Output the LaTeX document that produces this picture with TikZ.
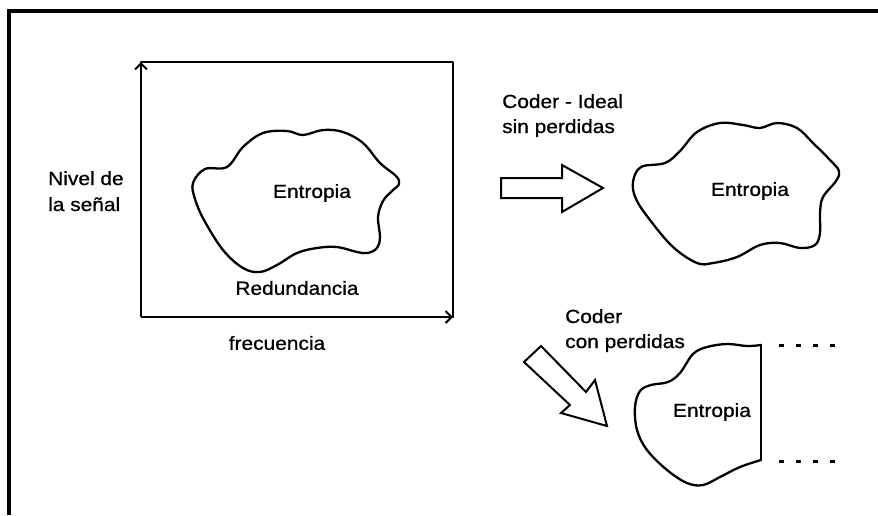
\documentclass[tikz,border=0pt]{standalone}
\usepackage{fontspec}
\setmainfont{Liberation Sans}[FakeStretch=1.1,FakeBold=0.8]
\usetikzlibrary{arrows.meta}
\begin{document}
\begin{tikzpicture}[x=1pt,y=-1pt,
  ink/.style={line width=2.4pt,line join=round,line cap=round},
  blob/.style={ink,line width=2.3pt},
  blockarrow/.style={line width=2pt,line join=miter,fill=white},
  lbl/.style={inner sep=0pt,font=\fontsize{19}{25}\selectfont},
  axisarrow/.style={line width=2.4pt,-{Straight Barb[length=6pt,width=12pt,line width=2pt]}}]
% canvas
\useasboundingbox (0,0) rectangle (878,515);
% page frame (top and left edges)
\draw[line width=3.2pt] (9,515) -- (9,11) -- (878,11);

% ---- signal space: level vs. frequency ----
\coordinate (origin) at (141,317);
\coordinate (ytop) at (141,62);
\coordinate (xend) at (453,317);
\coordinate (corner) at (453,62);
\draw[ink] (ytop) -- (corner) -- (xend);
\draw[axisarrow] (origin) -- (ytop);
\draw[axisarrow] (origin) -- (xend);

\draw[blob] plot[smooth cycle,tension=0.6] coordinates {
  (193,183) (205,169) (227,167) (243,147) (263,133) (287,131) (303,135)
  (323,130) (343,132) (363,143) (380,163) (396,176) (399,184) (392,191)
  (383,201) (378,217) (380,237) (377,248) (368,253) (357,252) (337,247)
  (317,248) (297,253) (277,265) (260,272) (243,268) (223,250) (204,220)
  (195,199)};

\node[lbl] (ent1) at (312,193) {Entropia};
\node[lbl] (red) at (297,288) {Redundancia};
\node[lbl] (freq) at (277,343) {frecuencia};
\node[lbl,anchor=base west] (niv1) at (48,185) {Nivel de};
\node[lbl,anchor=base west] (niv2) at (48,211) {la señal};

% ---- lossless coder ----
\node[lbl,anchor=base west] (ideal1) at (502,108) {Coder - Ideal};
\node[lbl,anchor=base west] (ideal2) at (502,133) {sin perdidas};
\draw[blockarrow] (501,178) -- (562,178) -- (562,165) -- (603,188)
  -- (562,212) -- (562,198) -- (501,198) -- cycle;

\draw[blob] plot[smooth cycle,tension=0.6] coordinates {
  (633,182) (641,167) (665,163) (680,151) (697,132) (720,123) (743,125)
  (760,128) (777,123) (797,128) (813,143) (830,160) (839,171) (836,181)
  (823,197) (820,213) (820,233) (815,245) (800,248) (780,243) (760,245)
  (737,257) (713,263) (697,263) (673,247) (650,220) (636,199)};
\node[lbl] (ent2) at (750,191) {Entropia};

% ---- lossy coder ----
\node[lbl,anchor=base west] (lossy1) at (565,323) {Coder};
\node[lbl,anchor=base west] (lossy2) at (565,348) {con perdidas};
\draw[blockarrow] (541,346) -- (586,392) -- (595,380) -- (607,426)
  -- (561,413) -- (570,405) -- (524,362) -- cycle;

\coordinate (cuttop) at (761,345);
\coordinate (cutbot) at (761,460);
\draw[blob] plot[smooth,tension=0.6] coordinates {
  (761,345) (747,346) (727,344) (707,347) (693,354) (680,373) (668,382)
  (651,385) (640,391) (635,407) (637,430) (647,450) (667,470) (687,483)
  (703,485) (720,477) (740,467) (761,460)};
\draw[ink] (cuttop) -- (cutbot);
\draw[line width=3pt,dash pattern=on 5pt off 12pt] (779,345) -- (840,345);
\draw[line width=3pt,dash pattern=on 5pt off 12pt] (779,461) -- (840,461);
\node[lbl] (ent3) at (712,412) {Entropia};
\end{tikzpicture}
\end{document}
